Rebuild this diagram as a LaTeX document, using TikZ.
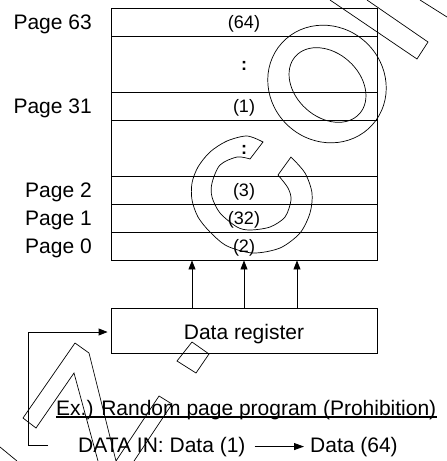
\documentclass[tikz,border=0pt]{standalone}
\usepackage{fontspec}
\setmainfont{Liberation Sans}
\usetikzlibrary{arrows.meta}
\begin{document}
\begin{tikzpicture}[x=1pt,y=-1pt,
  row/.style={draw,line width=0.9pt,minimum width=266pt,inner sep=0pt,
    font=\fontsize{18}{20}\selectfont,text height=15pt,text depth=3pt},
  lab/.style={inner sep=0pt,font=\fontsize{21}{24}\selectfont},
  arr/.style={line width=0.9pt,-{Triangle[length=9pt,width=7pt]}},
  wm/.style={line width=0.7pt,line join=miter}]
\useasboundingbox (0,0) rectangle (447,461);
% table rows
\node[row,minimum height=28pt] (r64) at (244,22) {(64)};
\node[row,minimum height=56pt] (rd1) at (244,64) {\textbf{:}};
\node[row,minimum height=28pt] (r1) at (244,106) {(1)};
\node[row,minimum height=56pt] (rd2) at (244,148) {\textbf{:}};
\node[row,minimum height=28pt] (r3) at (244,190) {(3)};
\node[row,minimum height=28pt] (r32) at (244,218) {(32)};
\node[row,minimum height=28pt] (r2) at (244,246) {(2)};
% page labels
\node[lab,anchor=base east] (p63) at (92,29) {Page 63};
\node[lab,anchor=base east] (p31) at (92,113) {Page 31};
\node[lab,anchor=base east] (p2) at (92,197) {Page 2};
\node[lab,anchor=base east] (p1) at (92,225) {Page 1};
\node[lab,anchor=base east] (p0) at (92,253) {Page 0};
% data register
\node[draw,line width=0.9pt,minimum width=266pt,minimum height=45pt,inner sep=0pt,
  font=\fontsize{21}{24}\selectfont,text height=21pt,text depth=3.4pt] (dr) at (244,330.5) {Data register};
\draw[arr] ([xshift=-52pt]dr.north) -- ([xshift=-52pt]r2.south);
\draw[arr] (dr.north) -- (r2.south);
\draw[arr] ([xshift=53pt]dr.north) -- ([xshift=53pt]r2.south);
% texts below
\node[lab,anchor=base west] (ex) at (56,415) {Ex.) Random page program (Prohibition)};
\draw[line width=1.6pt] ([yshift=-2pt]ex.base west) -- ([yshift=-2pt]ex.base east);
\node[lab,anchor=base west] (din) at (78,452) {DATA IN: Data (1)};
\node[lab,anchor=base west] (d64) at (310,452) {Data (64)};
\draw[line width=0.9pt,-{Triangle[length=10pt,width=7pt]},shorten <=9pt,shorten >=6pt] (din.east) -- (d64.west);
% feedback
\coordinate (fb) at (48,445);
\coordinate (fc) at (28,332);
\draw[arr,shorten >=3pt] (fb) -- (28,445) -- (fc) -- (fc -| dr.west);
% watermark outlines
\draw[wm] (330,0) -- (417,59) -- (428,42) -- (367,0);
\draw[wm] (420,0) -- (447,17);
\draw[wm,rotate around={-42:(327,84)}] (327,84) ellipse [x radius=61, y radius=57];
\draw[wm,rotate around={-42:(327.5,85)}] (327.5,85) ellipse [x radius=43, y radius=32];
\draw[wm] plot[smooth] coordinates {(263,142) (247,136) (227,141) (210,152) (198,167) (192,183) (192,200) (198,217) (210,232) (227,246) (253,253) (280,248) (300,233) (310,213) (312,193) (305,173) (291,157)}
  -- plot[smooth] coordinates {(278,175) (288,188) (291,200) (285,217) (270,227) (250,230) (237,227) (220,213) (212,197) (212,183) (220,165) (237,157) (250,159)} -- cycle;
\draw[wm] (192,342) -- (209,354) -- (196,373) -- (177,361) -- cycle;
\draw[wm] (98,461) -- (74,373) -- (36,428) -- (23,418) -- (75,343) -- (89,353) -- (116,461) -- (159,396) -- (172,404) -- (134,461);
\draw[wm] (0,447) -- (17,461);
\end{tikzpicture}
\end{document}
